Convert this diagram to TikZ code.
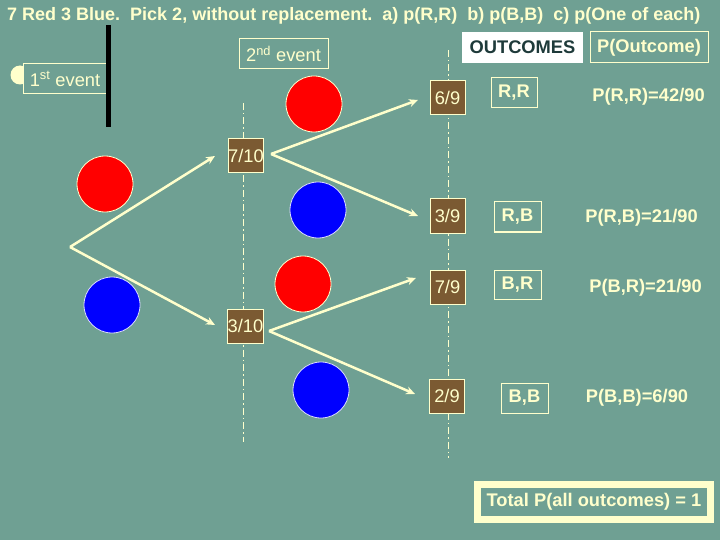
\documentclass[tikz,border=0pt]{standalone}
\usepackage{fontspec}
\setmainfont{Liberation Sans}
\usetikzlibrary{arrows.meta}
\definecolor{bg}{RGB}{111,160,147}
\definecolor{cream}{RGB}{255,255,204}
\definecolor{boxbrown}{RGB}{123,90,50}
\definecolor{darkteal}{RGB}{30,58,58}
\definecolor{redball}{RGB}{255,0,0}
\definecolor{blueball}{RGB}{0,0,255}
\tikzset{
  txt/.style={font=\fontsize{18.3}{21}\selectfont, text=cream, inner sep=0pt},
  btxt/.style={font=\fontsize{18.3}{21}\selectfont\bfseries, text=cream, inner sep=0pt},
  titletxt/.style={font=\fontsize{18}{21}\selectfont\bfseries, text=cream, inner sep=0pt},
  fracbox/.style={txt, fill=boxbrown, draw=cream, line width=1pt, minimum width=35pt, minimum height=34pt},
  outbox/.style={btxt, draw=cream, line width=1pt, minimum height=30pt},
  ball/.style={circle, minimum size=56pt, inner sep=0pt, draw=cream, line width=0.8pt},
  redb/.style={ball, fill=redball},
  blueb/.style={ball, fill=blueball, draw=white!85!blue},
  arr/.style={draw=cream, line width=2.5pt, -{Stealth[length=9pt,width=8pt]}},
  dashdot/.style={draw=cream, line width=0.8pt, dash pattern=on 7pt off 3pt on 1.5pt off 3pt}
}
\begin{document}
\begin{tikzpicture}[x=1pt,y=-1pt]
\fill[bg] (0,0) rectangle (720,540);
\useasboundingbox (0,0) rectangle (720,540);

% title
\node[titletxt, anchor=base west] (title) at (7,21) {7 Red 3 Blue.\ \ Pick 2, without replacement.\ \ a) p(R,R)\ \ b) p(B,B)\ \ c) p(One of each)};

% dash-dot guide lines
\coordinate (gl1) at (243,103);
\coordinate (gl2) at (243,442);
\coordinate (gr1) at (448,50);
\coordinate (gr2) at (448,458);
\draw[dashdot] (gl1) -- (gl2);
\draw[dashdot] (gr1) -- (gr2);

% first event marker
\fill[cream] (20,75) circle (9.5);
\node[txt, draw=cream, line width=1pt, fill=bg, minimum width=84pt, minimum height=30pt] (ev1) at (65,79) {1\textsuperscript{st} event};
\coordinate (bl1) at (108,25);
\coordinate (bl2) at (108,127);
\draw[black, line width=5pt] (bl1) -- (bl2);

% second event label
\node[txt, draw=cream, line width=1pt, minimum width=89pt, minimum height=30pt] (ev2) at (283.5,54) {2\textsuperscript{nd} event};

% headers
\node[btxt, text=darkteal, fill=white, minimum width=121pt, minimum height=31pt] (outc) at (522.5,47.5) {OUTCOMES};
\node[btxt, draw=cream, line width=1pt, minimum width=118pt, minimum height=31pt] (pout) at (649,47.5) {P(Outcome)};

% balls
\node[redb] (r1) at (105,184) {};
\node[blueb] (b1) at (112,305) {};
\node[redb] (r2) at (314,104) {};
\node[blueb] (b2) at (318,210) {};
\node[redb] (r3) at (303,284) {};
\node[blueb] (b3) at (321,390) {};

% first-level fractions
\node[fracbox, minimum width=34pt] (f710) at (246,156) {7/10};
\node[fracbox, minimum width=35pt] (f310) at (245.5,326) {3/10};

% second-level fractions
\node[fracbox] (f69) at (447.5,97.5) {6/9};
\node[fracbox] (f39) at (447.5,216) {3/9};
\node[fracbox] (f79) at (447.5,287) {7/9};
\node[fracbox] (f29) at (447,396) {2/9};

% outcomes
\node[outbox, minimum width=46pt] (oRR) at (514,93) {R,R};
\node[outbox, minimum width=47pt] (oRB) at (517.5,217) {R,B};
\node[outbox, minimum width=47pt, minimum height=29pt] (oBR) at (517.5,284.5) {B,R};
\node[outbox, minimum width=47pt] (oBB) at (524.5,398) {B,B};

% probabilities
\node[btxt] (pRR) at (648.5,97) {P(R,R)=42/90};
\node[btxt] (pRB) at (641.5,218) {P(R,B)=21/90};
\node[btxt] (pBR) at (645.5,288) {P(B,R)=21/90};
\node[btxt] (pBB) at (637,398) {P(B,B)=6/90};

% tree branches
\coordinate (v1) at (70,247);
\coordinate (t1a) at (215,156);
\coordinate (t1b) at (215,325);
\draw[arr] (v1) -- (t1a);
\draw[arr] (v1) -- (t1b);

\coordinate (v2) at (271,154);
\coordinate (t2a) at (418,100);
\coordinate (t2b) at (418,216);
\draw[arr] (v2) -- (t2a);
\draw[arr] (v2) -- (t2b);

\coordinate (v3) at (269,331);
\coordinate (t3a) at (416,278);
\coordinate (t3b) at (415,394);
\draw[arr] (v3) -- (t3a);
\draw[arr] (v3) -- (t3b);

% total
\node[btxt, draw=cream, line width=7pt, fill=bg, minimum width=233pt, minimum height=35pt] (tot) at (594,502) {Total P(all outcomes) = 1};
\end{tikzpicture}
\end{document}
